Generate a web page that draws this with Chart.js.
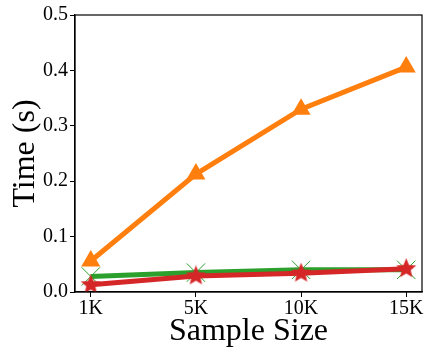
<!DOCTYPE html>
<html>
<head>
<meta charset="utf-8">
<script src="https://cdn.jsdelivr.net/npm/chart.js@4/dist/chart.umd.min.js"></script>
<style>
  html, body { margin: 0; padding: 0; background: #fff; }
  #wrap { width: 430px; height: 352px; }
</style>
</head>
<body>
<div id="wrap"><canvas id="chart" width="430" height="352"></canvas></div>
<script>
// du lieu doc tu hinh
const sampleLabels = ['1K', '5K', '10K', '15K'];
const orangeTimes = [0.056, 0.213, 0.330, 0.406];
const greenTimes = [0.028, 0.035, 0.040, 0.040];
const redTimes = [0.013, 0.029, 0.034, 0.042];
const yTicks = [0.0, 0.1, 0.2, 0.3, 0.4, 0.5];

// ngoi sao to day cho duong do
function makeStar(size, color) {
    const c = document.createElement('canvas');
    c.width = size; c.height = size;
    const g = c.getContext('2d');
    const cx = size / 2, cy = size / 2, outer = size / 2, inner = outer * 0.45;
    g.fillStyle = color;
    g.beginPath();
    for (let i = 0; i < 10; i++) {
        const r = i % 2 === 0 ? outer : inner;
        const a = -Math.PI / 2 + i * Math.PI / 5;
        g.lineTo(cx + r * Math.cos(a), cy + r * Math.sin(a));
    }
    g.closePath();
    g.fill();
    return c;
}
const redStar = makeStar(21, '#d62728');

function toPoints(vals) {
    return vals.map((v, i) => ({ x: i, y: v }));
}

// khung hop quanh vung ve
const frame = {
    id: 'frame',
    afterDraw(chart) {
        const a = chart.chartArea, ctx = chart.ctx;
        ctx.save();
        ctx.strokeStyle = '#000';
        ctx.lineWidth = 1.2;
        ctx.strokeRect(a.left, a.top, a.right - a.left, a.bottom - a.top);
        ctx.restore();
    }
};

const fontFam = '"Liberation Serif", "Times New Roman", serif';

new Chart(document.getElementById('chart').getContext('2d'), {
    type: 'line',
    data: {
        datasets: [{
            data: toPoints(orangeTimes),
            borderColor: '#ff7f0e',
            backgroundColor: '#ff7f0e',
            borderWidth: 5,
            pointStyle: 'triangle',
            pointRadius: 11,
            pointBorderWidth: 0,
            order: 3
        }, {
            data: toPoints(greenTimes),
            borderColor: '#2ca02c',
            backgroundColor: '#2ca02c',
            borderWidth: 5,
            pointStyle: 'crossRot',
            pointRadius: 13,
            pointBorderWidth: 1,
            order: 2
        }, {
            data: toPoints(redTimes),
            borderColor: '#d62728',
            backgroundColor: '#d62728',
            borderWidth: 5,
            pointStyle: redStar,
            order: 1
        }]
    },
    options: {
        responsive: false,
        animation: false,
        layout: { autoPadding: false, padding: { left: 0, top: 15, right: 8, bottom: 0 } },
        plugins: {
            legend: { display: false },
            tooltip: { enabled: false }
        },
        scales: {
            x: {
                type: 'linear',
                min: -0.15,
                max: 3.15,
                afterBuildTicks: s => { s.ticks = sampleLabels.map((l, i) => ({ value: i })); },
                afterFit: s => { s.height = 60; s.paddingLeft = 0; s.paddingRight = 0; },
                ticks: {
                    callback: v => sampleLabels[v],
                    color: '#000',
                    font: { family: fontFam, size: 20 },
                    padding: 0,
                    maxRotation: 0
                },
                grid: { drawOnChartArea: false, drawTicks: true, tickLength: 5, color: '#000' },
                border: { display: true, color: '#000', width: 1.2 },
                title: {
                    display: true,
                    text: 'Sample Size',
                    color: '#000',
                    font: { family: fontFam, size: 32 },
                    padding: { top: 0, bottom: 1 }
                }
            },
            y: {
                min: 0,
                max: 0.5,
                afterBuildTicks: s => { s.ticks = yTicks.map(v => ({ value: v })); },
                afterFit: s => { s.width = 75; },
                ticks: {
                    callback: v => v.toFixed(1),
                    color: '#000',
                    font: { family: fontFam, size: 20 },
                    padding: 2
                },
                grid: { drawOnChartArea: false, drawTicks: true, tickLength: 5, color: '#000' },
                border: { display: true, color: '#000', width: 1.2 },
                title: {
                    display: true,
                    text: 'Time (s)',
                    color: '#000',
                    font: { family: fontFam, size: 32 },
                    padding: { top: 6, bottom: 0 }
                }
            }
        }
    },
    plugins: [frame]
});
</script>
</body>
</html>
